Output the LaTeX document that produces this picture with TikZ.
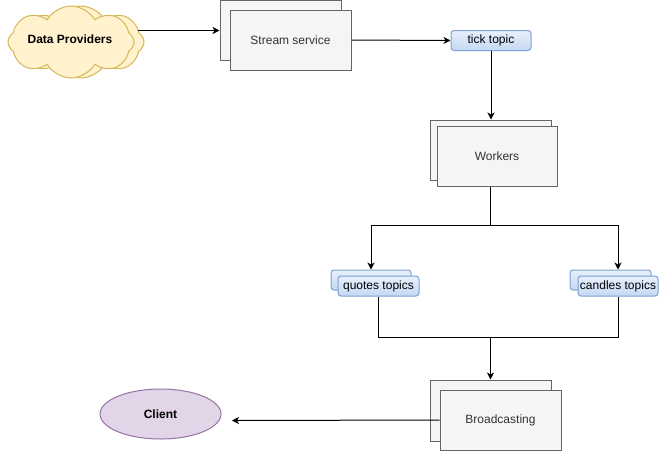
\documentclass[tikz,border=0pt]{standalone}
\usepackage{fontspec}
\setmainfont{Liberation Sans}
\usetikzlibrary{shapes.symbols,shapes.geometric,arrows.meta}
\definecolor{boxfill}{HTML}{F5F5F5}
\definecolor{boxdraw}{HTML}{666666}
\definecolor{boxtext}{HTML}{333333}
\definecolor{cloudfill}{HTML}{FFF2CC}
\definecolor{clouddraw}{HTML}{D6B656}
\definecolor{clientfill}{HTML}{E1D5E7}
\definecolor{clientdraw}{HTML}{9673A6}
\definecolor{topictop}{HTML}{E8F0FC}
\definecolor{topicbot}{HTML}{C4D8F3}
\definecolor{topicdraw}{HTML}{7EA1D0}
\tikzset{
  every node/.style={font=\fontsize{12}{14}\selectfont, inner sep=0pt, line width=1pt},
  svcbox/.style={draw=boxdraw, fill=boxfill, text=boxtext, rectangle, minimum width=121pt, minimum height=60pt},
  topicbox/.style={draw=topicdraw, top color=topictop, bottom color=topicbot, rounded corners=3pt, rectangle, minimum width=80pt, minimum height=20pt, text=black},
  cloudbox/.style={draw=clouddraw, fill=cloudfill, cloud, cloud puffs=8, cloud puff arc=120, cloud ignores aspect, minimum width=126pt, minimum height=72pt},
  conn/.style={line width=1pt, draw=black},
  arr/.style={conn, -{Stealth[length=7pt,width=7pt,inset=2pt]}}
}
\begin{document}
\begin{tikzpicture}[x=1pt,y=-1pt]
\useasboundingbox (0,0) rectangle (659,451);
% cloud
\node[cloudbox] (dpb) at (81,42) {};
\node[cloudbox] (dpf) at (71,42) {};
\node[font=\fontsize{12}{14}\selectfont\bfseries] (dpt) at (70,39) {Data Providers};
% stream service
\node[svcbox] (sb) at (280.5,30) {};
\node[svcbox] (sf) at (290.5,40) {Stream service};
% tick topic
\node[topicbox] (tick) at (491,40.5) {tick topic};
% workers
\node[svcbox] (wb) at (490.5,150) {};
\node[svcbox, minimum width=120pt] (wf) at (497,156) {Workers};
% quotes / candles
\node[topicbox] (qb) at (371,280) {};
\node[topicbox, minimum width=81pt] (qf) at (378.5,286) {quotes topics};
\node[topicbox, minimum width=81pt] (cb) at (610.5,280) {};
\node[topicbox] (cf) at (618,286) {candles topics};
% broadcasting
\node[svcbox, minimum height=61pt] (bb) at (490.5,410.5) {};
\node[svcbox] (bf) at (500.5,420) {Broadcasting};
% client
\node[ellipse, draw=clientdraw, fill=clientfill, minimum width=121pt, minimum height=50pt, font=\fontsize{12}{14}\selectfont\bfseries] (client) at (160.5,414) {Client};
% connectors
\coordinate (dpout) at (138,30.5);
\draw[arr] (dpout) -- (sb.west |- dpout);
\draw[arr] (sf.east) -- (tick.west);
\draw[arr] (tick.south) -- (tick.south |- wb.north);
\coordinate (split) at (490.5,225);
\draw[conn] (wb.south |- wf.south) -- (split);
\draw[arr] (split) -| (qb.north);
\draw[arr] (split) -| (cf.north |- cb.north);
\coordinate (merge) at (490.5,337);
\draw[conn] (qf.south) |- (merge);
\draw[conn] (cf.south) |- (merge);
\draw[arr] (merge) -- (bb.north);
\coordinate (cin) at (232,420.5);
\draw[arr] (bf.west) -- (cin);
\end{tikzpicture}
\end{document}
